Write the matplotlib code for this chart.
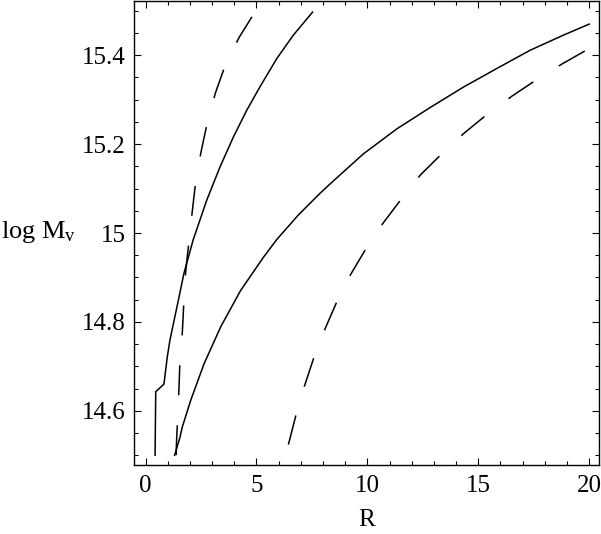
import matplotlib
matplotlib.use("Agg")
import matplotlib.pyplot as plt
from matplotlib.ticker import MultipleLocator

plt.rcParams['font.family'] = ['Liberation Serif', 'DejaVu Serif']
plt.rcParams['mathtext.fontset'] = 'custom'
plt.rcParams['mathtext.rm'] = 'Liberation Serif'
plt.rcParams['mathtext.it'] = 'Liberation Serif:italic'

# Solid curve 1 (left)
s1_R = [0.43, 0.46, 0.83, 0.98, 1.10, 1.51, 1.73, 2.15, 2.76, 3.36, 3.96, 4.56, 5.16, 5.91, 6.66, 7.53]
s1_M = [14.50, 14.643, 14.660, 14.721, 14.759, 14.856, 14.909, 14.985, 15.074, 15.149, 15.216, 15.276, 15.329, 15.392, 15.445, 15.497]

# Solid curve 2 (right)
s2_R = [1.31, 1.54, 1.66, 2.04, 2.64, 3.39, 4.29, 5.31, 5.91, 6.88, 7.86, 8.31, 9.82, 11.32, 12.82, 14.32, 15.83, 17.33, 18.83, 20.0]
s2_M = [14.50, 14.538, 14.564, 14.624, 14.706, 14.789, 14.871, 14.945, 14.985, 15.040, 15.089, 15.110, 15.178, 15.234, 15.282, 15.328, 15.370, 15.411, 15.445, 15.470]

# Dashed curve 1 (left)
d1_R = [1.38, 1.40, 1.50, 1.55, 1.66, 1.73, 1.81, 1.96, 2.11, 2.26, 2.50, 2.79, 3.15, 3.61, 4.23, 4.93]
d1_M = [14.50, 14.534, 14.640, 14.710, 14.778, 14.847, 14.913, 14.982, 15.050, 15.115, 15.182, 15.250, 15.315, 15.380, 15.441, 15.497]

# Dashed curve 2 (right)
d2_R = [6.44, 6.78, 7.16, 7.59, 8.08, 8.64, 9.25, 9.94, 10.69, 11.51, 12.40, 13.35, 14.37, 15.40, 16.52, 17.66, 18.80, 20.0]
d2_M = [14.524, 14.590, 14.655, 14.720, 14.783, 14.847, 14.907, 14.965, 15.021, 15.075, 15.131, 15.178, 15.225, 15.267, 15.308, 15.346, 15.381, 15.415]

x_ticks = [0, 5, 10, 15, 20]
y_ticks = [14.6, 14.8, 15.0, 15.2, 15.4]
y_tick_labels = ['14.6', '14.8', '15', '15.2', '15.4']

fig = plt.figure(figsize=(6.01, 5.34), dpi=100)
ax = fig.add_axes([134/601, 1 - 465/534, (598.5 - 134)/601, (465 - 1)/534])

lw = 1.1
ax.plot(s1_R, s1_M, color='black', lw=lw)
ax.plot(s2_R, s2_M, color='black', lw=lw)
dash = (0, (30 * 0.72 / lw, 30 * 0.72 / lw))
ax.plot(d1_R, d1_M, color='black', lw=lw, linestyle=dash)
ax.plot(d2_R, d2_M, color='black', lw=lw, linestyle=dash)

ax.set_xlim(-0.52, 20.42)
ax.set_ylim(14.478, 15.522)

ax.set_xticks(x_ticks)
ax.set_xticklabels([str(t) for t in x_ticks])
ax.set_yticks(y_ticks)
ax.set_yticklabels(y_tick_labels)
ax.xaxis.set_minor_locator(MultipleLocator(1))
ax.yaxis.set_minor_locator(MultipleLocator(0.05))

ax.tick_params(which='both', direction='in', top=True, right=True, colors='black',
               labelsize=18, width=0.8)
ax.tick_params(which='major', length=5)
ax.tick_params(which='minor', length=3)
ax.tick_params(axis='y', pad=6)
ax.tick_params(axis='x', pad=7)
for sp in ax.spines.values():
    sp.set_linewidth(1.0)
    sp.set_color('black')

ax.set_xlabel('R', fontsize=18, labelpad=9)
fig.text(1/601, 1 - 232/534, r'log M$_{\rm v}$', fontsize=19, ha='left', va='center')

fig.savefig('out.png', dpi=100)
